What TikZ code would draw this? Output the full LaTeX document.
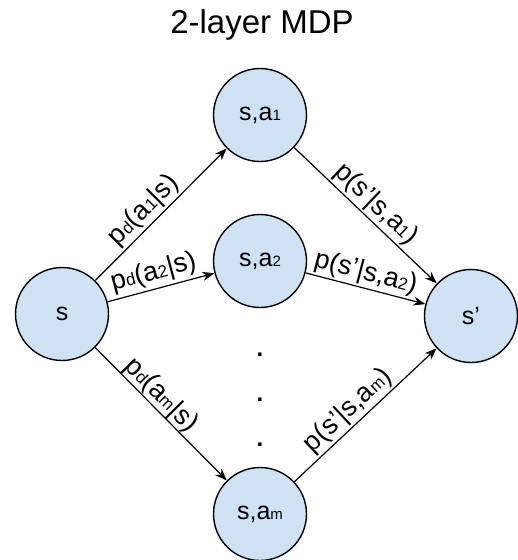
\documentclass[tikz,border=0pt]{standalone}
\usepackage{fontspec}
\setmainfont{Liberation Sans}
\usetikzlibrary{arrows.meta}
\definecolor{nodeblue}{HTML}{CFE2F3}
\newcommand\sbs[1]{{\fontsize{17}{17}\selectfont #1}}
\newcommand\nsb[1]{{\fontsize{15}{15}\selectfont #1}}
\tikzset{
  statenode/.style={circle,draw=black,line width=1.4pt,fill=nodeblue,minimum size=93pt,inner sep=0pt,font=\fontsize{25}{25}\selectfont},
  edgearrow/.style={line width=1.2pt,-{Stealth[length=12pt,width=9pt]}},
  edgelabel/.style={sloped,above,font=\fontsize{27}{27}\selectfont,inner sep=2pt}
}
\begin{document}
\begin{tikzpicture}[x=1pt,y=-1pt]
\useasboundingbox (0,0) rectangle (518,560);
\node[font=\fontsize{33}{33}\selectfont,anchor=base] (title) at (262,33) {2-layer MDP};
\node[statenode] (s) at (62,314) {s};
\node[statenode] (a1) at (260,115) {s,a\nsb{1}};
\node[statenode] (a2) at (260,261) {s,a\nsb{2}};
\node[statenode] (am) at (260,514) {s,a\nsb{m}};
\node[statenode] (sp) at (471,316) {s’};
\node[font=\bfseries\fontsize{24}{45}\selectfont,align=center] (dots) at (260,400) {.\\.\\.};
\draw[edgearrow] (s) -- node[edgelabel,pos=0.45] {p\sbs{d}(a\sbs{1}|s)} (a1);
\draw[edgearrow] (s) -- node[edgelabel,pos=0.47,inner sep=3pt] {p\sbs{d}(a\sbs{2}|s)} (a2);
\draw[edgearrow] (s) -- node[edgelabel,pos=0.43,inner sep=0pt] {p\sbs{d}(a\sbs{m}|s)} (am);
\draw[edgearrow] (a1) -- node[edgelabel,pos=0.5] {p(s’|s,a\sbs{1})} (sp);
\draw[edgearrow] (a2) -- node[edgelabel,pos=0.47] {p(s’|s,a\sbs{2})} (sp);
\draw[edgearrow] (am) -- node[edgelabel,pos=0.45] {p(s’|s,a\sbs{m})} (sp);
\end{tikzpicture}
\end{document}
